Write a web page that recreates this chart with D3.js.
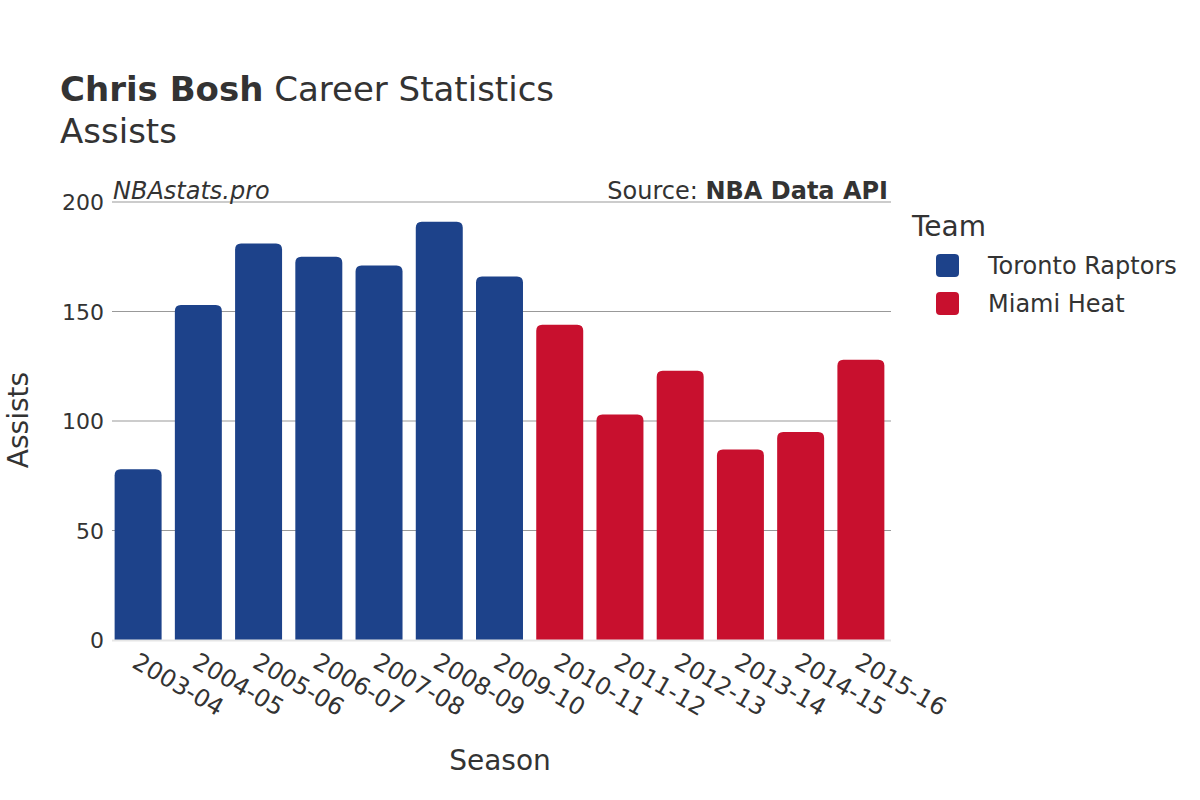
<!DOCTYPE html>
<html><head><meta charset="utf-8">
<script src="https://cdn.jsdelivr.net/npm/d3@7"></script>
<style>body{margin:0;background:#fff}text{font-family:"DejaVu Sans",sans-serif}</style>
</head><body><svg id="c" width="1200" height="800"></svg>
<script>
const seasons = ["2003-04","2004-05","2005-06","2006-07","2007-08","2008-09","2009-10","2010-11","2011-12","2012-13","2013-14","2014-15","2015-16"];
const assists = [78,153,181,175,171,191,166,144,103,123,87,95,128];
const teams = ["Toronto Raptors","Toronto Raptors","Toronto Raptors","Toronto Raptors","Toronto Raptors","Toronto Raptors","Toronto Raptors","Miami Heat","Miami Heat","Miami Heat","Miami Heat","Miami Heat","Miami Heat"];
const teamNames = ["Toronto Raptors","Miami Heat"];
const teamColors = ["#1d428a","#c8102e"];
const yTicks = [0,50,100,150,200];

const svg = d3.select("#c");
const L=108,R=891,T=202,B=640;
const x = d3.scaleBand().domain(seasons).range([L,R]).paddingInner(0.22).paddingOuter(0.11);
const y = d3.scaleLinear().domain([0,200]).range([B,T]);
const color = d3.scaleOrdinal().domain(teamNames).range(teamColors);
const tc="#333";

// grid
svg.append("g").selectAll("line").data(yTicks.filter(d=>d>0)).join("line")
 .attr("x1",L+4).attr("x2",R).attr("y1",d=>y(d)).attr("y2",d=>y(d))
 .attr("stroke","#999").attr("stroke-width",1);

// bars with rounded top
const r=6;
svg.append("g").selectAll("path").data(seasons).join("path")
 .attr("fill",(d,i)=>color(teams[i]))
 .attr("d",(d,i)=>{const x0=x(d),w=x.bandwidth(),y0=y(assists[i]),yb=y(0);
   return `M${x0},${yb}V${y0+r}Q${x0},${y0} ${x0+r},${y0}H${x0+w-r}Q${x0+w},${y0} ${x0+w},${y0+r}V${yb}Z`;});

// baseline
svg.append("line").attr("x1",L+4).attr("x2",R).attr("y1",B+0.5).attr("y2",B+0.5).attr("stroke","#e6e6e6").attr("stroke-width",2);

// y axis
const ya=svg.append("g").attr("transform",`translate(${L},0)`).call(d3.axisLeft(y).tickValues(yTicks).tickSize(0).tickPadding(4));
ya.select(".domain").remove();
ya.selectAll("text").attr("font-size",22).attr("fill",tc).attr("font-family","DejaVu Sans").attr("dy","0.35em");

// x axis
const xa=svg.append("g").attr("transform",`translate(0,${B})`).call(d3.axisBottom(x).tickSize(0));
xa.select(".domain").remove();
xa.selectAll("text").attr("font-size",24).attr("fill",tc).attr("font-family","DejaVu Sans")
 .attr("text-anchor","start").attr("transform","translate(1,12) rotate(30)").attr("dy","0.7em").attr("y",0).attr("x",0);

// titles
const t=svg.append("text").attr("x",60).attr("y",101).attr("font-size",34).attr("fill",tc);
t.append("tspan").attr("font-weight","bold").text("Chris Bosh");
t.append("tspan").text(" Career Statistics");
svg.append("text").attr("x",60).attr("y",143).attr("font-size",34).attr("fill",tc).text("Assists");

svg.append("text").attr("x",113).attr("y",199).attr("font-size",24).attr("font-style","italic").attr("fill",tc).text("NBAstats.pro");
const s=svg.append("text").attr("x",888).attr("y",199).attr("font-size",24).attr("text-anchor","end").attr("fill",tc);
s.append("tspan").text("Source: ");
s.append("tspan").attr("font-weight","bold").text("NBA Data API");

svg.append("text").attr("x",500).attr("y",770).attr("font-size",28).attr("text-anchor","middle").attr("fill",tc).text("Season");
svg.append("text").attr("transform","translate(28,420) rotate(-90)").attr("font-size",28).attr("text-anchor","middle").attr("fill",tc).text("Assists");

// legend
svg.append("text").attr("x",912).attr("y",236).attr("font-size",28).attr("fill",tc).text("Team");
const lg=svg.append("g").selectAll("g").data(teamNames).join("g").attr("transform",(d,i)=>`translate(936,${254+i*38})`);
lg.append("rect").attr("width",23).attr("height",23).attr("rx",4).attr("fill",d=>color(d));
lg.append("text").attr("x",52).attr("y",12).attr("dy","0.35em").attr("font-size",24).attr("fill",tc).text(d=>d);
</script></body></html>
